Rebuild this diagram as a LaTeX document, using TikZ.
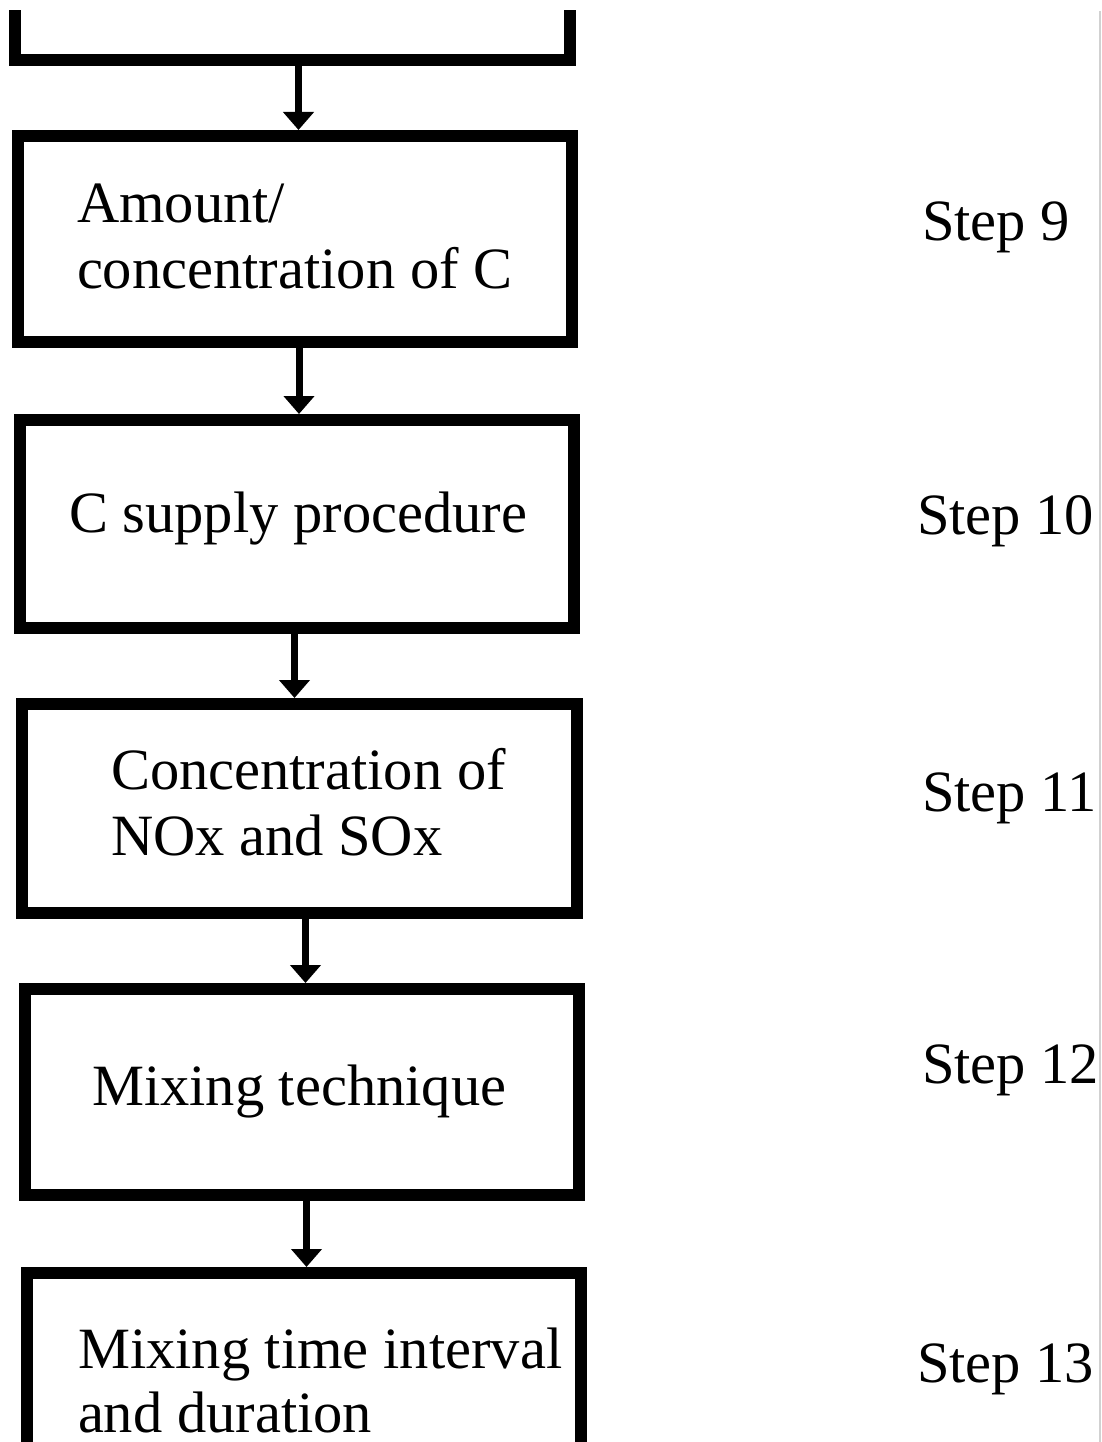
\documentclass[tikz,border=0pt]{standalone}
\usepackage{fontspec}
\setmainfont{Liberation Serif}
\usetikzlibrary{arrows.meta}
\begin{document}
\begin{tikzpicture}[x=1pt,y=-1pt,
  box/.style={draw=black,line width=12pt,inner sep=0pt,outer sep=6pt,rectangle},
  lbl/.style={anchor=base west,inner sep=0pt,outer sep=0pt,font=\fontsize{58.5}{66}\selectfont,align=left},
  arr/.style={line width=7pt,-{Triangle[width=30pt,length=18pt]}}]
\fill[white] (0,0) rectangle (1102,1442);
\useasboundingbox (0,0) rectangle (1102,1442);
\begin{scope}
\clip (0,11) rectangle (1102,1442);
\node[box,minimum width=555pt,minimum height=204pt] (b0) at (292.5,-42) {};
\node[box,minimum width=554.5pt,minimum height=206pt] (b1) at (294.75,239) {};
\node[box,minimum width=554pt,minimum height=208pt] (b2) at (297,524) {};
\node[box,minimum width=555pt,minimum height=209pt] (b3) at (299.5,808.5) {};
\node[box,minimum width=554pt,minimum height=206pt] (b4) at (302,1092) {};
\node[box,minimum width=554pt,minimum height=206pt] (b5) at (304,1376) {};
\coordinate (x01) at (298.5,0);
\coordinate (x12) at (299,0);
\coordinate (x23) at (294.5,0);
\coordinate (x34) at (305.5,0);
\coordinate (x45) at (306.5,0);
\draw[arr] (b0.south -| x01) -- (b1.north -| x01);
\draw[arr] (b1.south -| x12) -- (b2.north -| x12);
\draw[arr] (b2.south -| x23) -- (b3.north -| x23);
\draw[arr] (b3.south -| x34) -- (b4.north -| x34);
\draw[arr] (b4.south -| x45) -- (b5.north -| x45);
\end{scope}
\node[lbl] (t1) at (77,288) {Amount/\\concentration of C};
\node[lbl] (t2) at (69,532) {C supply procedure};
\node[lbl] (t3) at (111,855) {Concentration of\\NOx and SOx};
\node[lbl] (t4) at (92,1105) {Mixing technique};
\node[lbl,font=\fontsize{58.5}{64}\selectfont] (t5) at (78,1432) {Mixing time interval\\and duration};
\node[lbl] (s9) at (922,240) {Step 9};
\node[lbl] (s10) at (917,534) {Step 10};
\node[lbl] (s11) at (922,811) {Step 11};
\node[lbl] (s12) at (922,1083) {Step 12};
\node[lbl] (s13) at (917,1382) {Step 13};
\draw[black!18,line width=2pt] (1100,11) -- (1100,1442);
\end{tikzpicture}
\end{document}
